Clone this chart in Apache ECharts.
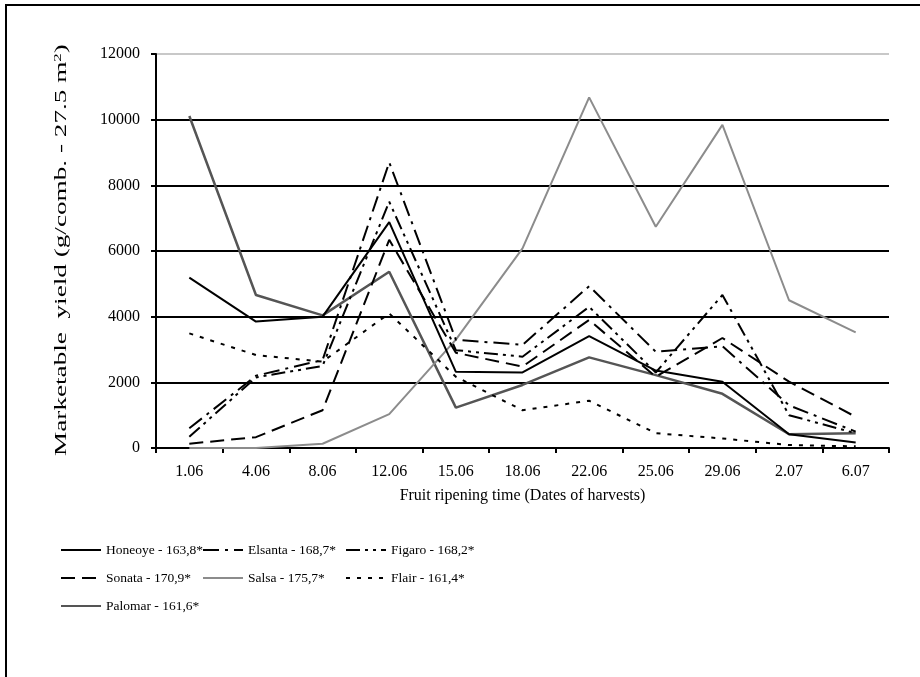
<!DOCTYPE html>
<html>
<head>
<meta charset="utf-8">
<script src="https://cdn.jsdelivr.net/npm/echarts@6/dist/echarts.min.js"></script>
<style>html,body{margin:0;padding:0;background:#fff}#c{width:920px;height:677px}</style>
</head>
<body>
<div id="c"></div>
<script>
var categories = ['1.06','4.06','8.06','12.06','15.06','18.06','22.06','25.06','29.06','2.07','6.07'];
var honeoye = [5190, 3850, 4000, 6880, 2320, 2300, 3410, 2360, 2020, 420, 170];
var elsanta = [600, 2200, 2680, 8700, 3300, 3140, 4930, 2930, 3100, 1300, 500];
var figaro  = [340, 2150, 2500, 7500, 2980, 2780, 4300, 2300, 4660, 1000, 450];
var sonata  = [130, 330, 1150, 6340, 2900, 2480, 3900, 2170, 3350, 2020, 950];
var salsa   = [0, 0, 130, 1030, 3300, 6080, 10680, 6740, 9840, 4500, 3520];
var flair   = [3490, 2830, 2630, 4100, 2170, 1150, 1440, 450, 290, 90, 50];
var palomar = [10110, 4660, 4040, 5370, 1230, 1920, 2760, 2220, 1650, 420, 450];
var seriesNames = ['Honeoye - 163,8*','Elsanta - 168,7*','Figaro - 168,2*','Sonata - 170,9*','Salsa - 175,7*','Flair - 161,4*','Palomar - 161,6*'];
var yTicks = [0, 2000, 4000, 6000, 8000, 10000, 12000];
var xTitle = 'Fruit ripening time (Dates of harvests)';
var yTitleMain = 'Marketable  yield (g/comb. - 27.5 m';
var yTitleSup = '2';

var font = 'Liberation Serif';
var chart = echarts.init(document.getElementById('c'), null, {renderer: 'canvas'});

function mk(name, data, color, type, width) {
  return {
    name: name, type: 'line', data: data, symbol: 'none', smooth: false,
    lineStyle: {color: color, width: width || 2, type: type},
    itemStyle: {color: color},
    emphasis: {disabled: true}
  };
}
function legendAt(left, names) {
  return {
    orient: 'vertical', left: left, top: 538, itemWidth: 40, itemHeight: 14, itemGap: 14,
    itemStyle: {opacity: 0},
    lineStyle: {width: 2},
    textStyle: {fontFamily: font, fontSize: 13.5, lineHeight: 14, color: '#000'},
    selectedMode: false, data: names
  };
}
var option = {
  animation: false,
  backgroundColor: '#fff',
  grid: {left: 156, right: 31, top: 54, bottom: 229, containLabel: false},
  xAxis: {
    type: 'category', data: categories, boundaryGap: true,
    axisLine: {lineStyle: {color: '#000', width: 2}},
    axisTick: {show: true, length: 5, inside: false, lineStyle: {color: '#000', width: 2}},
    axisLabel: {fontFamily: font, fontSize: 16, color: '#000', margin: 16},
    name: xTitle, nameLocation: 'middle', nameGap: 40,
    nameTextStyle: {fontFamily: font, fontSize: 16, color: '#000'}
  },
  yAxis: {
    type: 'value', min: 0, max: 12000, interval: 2000,
    axisLine: {show: true, lineStyle: {color: '#000', width: 2}},
    axisTick: {show: true, length: 5, lineStyle: {color: '#000', width: 2}},
    axisLabel: {fontFamily: font, fontSize: 16, color: '#000', margin: 16,
      formatter: function(v){ return yTicks.indexOf(v) >= 0 ? String(v) : ''; }},
    splitLine: {show: true, lineStyle: {color: ['#000','#000','#000','#000','#000','#000','#c8c8c8'], width: 2}}
  },
  legend: [
    legendAt(55, [seriesNames[0], seriesNames[3], seriesNames[6]]),
    legendAt(197, [seriesNames[1], seriesNames[4]]),
    legendAt(340, [seriesNames[2], seriesNames[5]])
  ],
  graphic: [
    {type: 'line', shape: {x1: 6, y1: 5, x2: 6, y2: 677}, style: {stroke: '#000', lineWidth: 2}},
    {type: 'line', shape: {x1: 5, y1: 5, x2: 920, y2: 5}, style: {stroke: '#000', lineWidth: 2}},
    {type: 'text', x: 62, y: 250, rotation: Math.PI / 2, scaleX: 1.7,
     style: {text: '{a|' + yTitleMain + '}{s|' + yTitleSup + '}{a|)}', align: 'center', verticalAlign: 'middle',
       font: '16px "Liberation Serif"', fill: '#000',
       rich: {a: {fontFamily: font, fontSize: 16, fill: '#000'},
              s: {fontFamily: font, fontSize: 10, fill: '#000', verticalAlign: 'top', padding: [0,0,8,0]}}}}
  ],
  series: [
    mk(seriesNames[6], palomar, '#555555', 'solid', 2.5),
    mk(seriesNames[4], salsa, '#8c8c8c', 'solid', 2),
    mk(seriesNames[5], flair, '#000', [4, 7], 2),
    mk(seriesNames[3], sonata, '#000', [14, 7], 2),
    mk(seriesNames[2], figaro, '#000', [14, 5, 3, 5, 3, 5], 2),
    mk(seriesNames[1], elsanta, '#000', [16, 6, 3, 6], 2),
    mk(seriesNames[0], honeoye, '#000', 'solid', 2)
  ]
};
chart.setOption(option);
</script>
</body>
</html>
